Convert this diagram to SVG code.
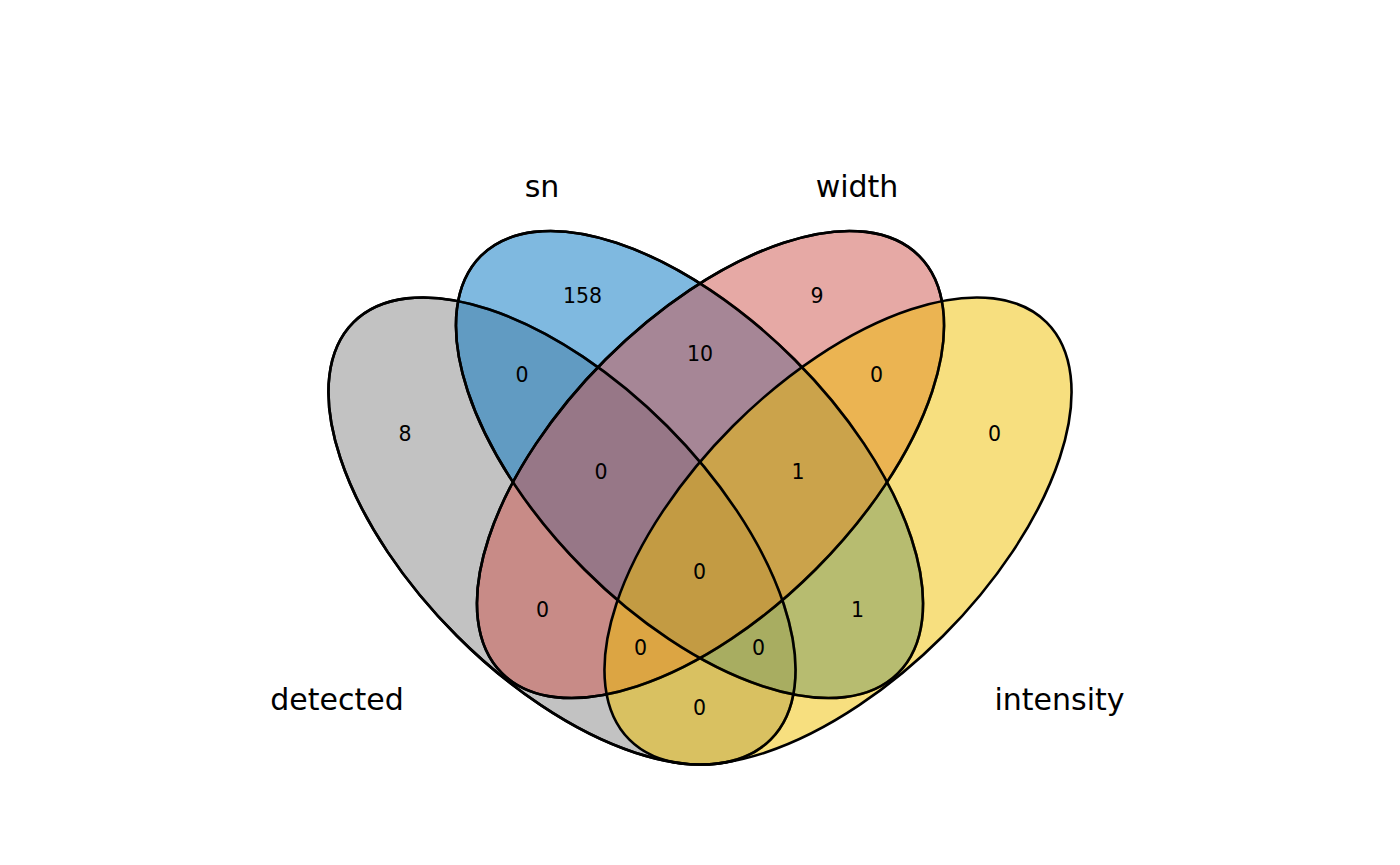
<svg xmlns="http://www.w3.org/2000/svg" width="1400" height="865" viewBox="0 0 1400 865">
<style>
.set{fill-opacity:0.5;stroke:#000;stroke-width:2.6}
.cat{font-family:"DejaVu Sans",sans-serif;font-size:30px;fill:#000;text-anchor:middle}
.num{font-family:"DejaVu Sans",sans-serif;font-size:20.5px;fill:#000;text-anchor:middle}
</style>
<rect width="1400" height="865" fill="#fff"/>
<g id="detected"><ellipse class="set" cx="562" cy="531" rx="295" ry="148.5" transform="rotate(45 562 531)" fill="#868686"/></g>
<g id="sn"><ellipse class="set" cx="689.5" cy="464.5" rx="295" ry="148.5" transform="rotate(45 689.5 464.5)" fill="#0073C2"/></g>
<g id="width"><ellipse class="set" cx="710.5" cy="464.5" rx="295" ry="148.5" transform="rotate(-45 710.5 464.5)" fill="#CD534C"/></g>
<g id="intensity"><ellipse class="set" cx="838" cy="531" rx="295" ry="148.5" transform="rotate(-45 838 531)" fill="#EFC000"/></g>
<g id="outlines" fill="none" stroke="#000" stroke-width="2.6">
<ellipse cx="562" cy="531" rx="295" ry="148.5" transform="rotate(45 562 531)"/>
<ellipse cx="689.5" cy="464.5" rx="295" ry="148.5" transform="rotate(45 689.5 464.5)"/>
<ellipse cx="710.5" cy="464.5" rx="295" ry="148.5" transform="rotate(-45 710.5 464.5)"/>
</g>
<g id="labels">
<text class="cat" x="337" y="709.5">detected</text>
<text class="cat" x="542" y="197">sn</text>
<text class="cat" x="857" y="197">width</text>
<text class="cat" x="1059.5" y="709.5">intensity</text>
</g>
<g id="counts">
<text class="num" x="405" y="440.5">8</text>
<text class="num" x="582.5" y="302.5">158</text>
<text class="num" x="817" y="302.5">9</text>
<text class="num" x="994.5" y="440.5">0</text>
<text class="num" x="522" y="381.5">0</text>
<text class="num" x="700" y="361">10</text>
<text class="num" x="876.5" y="381.5">0</text>
<text class="num" x="601" y="478.5">0</text>
<text class="num" x="798" y="478.5">1</text>
<text class="num" x="699.5" y="578.5">0</text>
<text class="num" x="542.5" y="617">0</text>
<text class="num" x="857.5" y="617">1</text>
<text class="num" x="640.5" y="655">0</text>
<text class="num" x="758.5" y="655">0</text>
<text class="num" x="699.5" y="714.5">0</text>
</g>
</svg>
